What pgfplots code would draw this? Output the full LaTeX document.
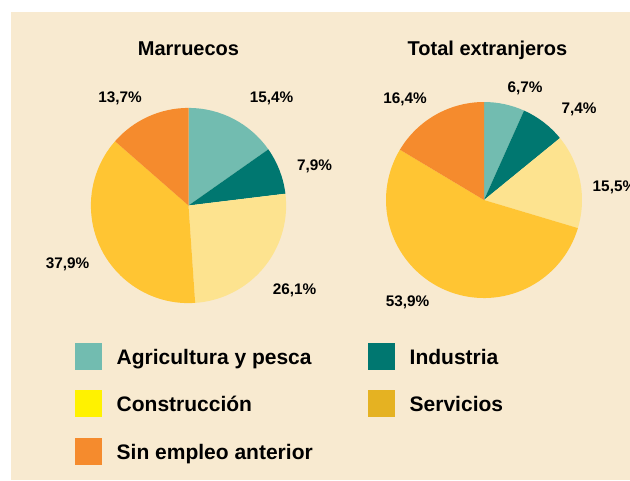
\documentclass[border=0pt]{standalone}
\usepackage{pgfplots}
\pgfplotsset{compat=1.18}
\usepackage{fontspec}
\setmainfont{Liberation Sans}

\definecolor{fondo}{HTML}{F8EAD0}
\definecolor{agri}{HTML}{72BCB0}
\definecolor{ind}{HTML}{007770}
\definecolor{cons}{HTML}{FDE38F}
\definecolor{serv}{HTML}{FFC533}
\definecolor{sinemp}{HTML}{F58B2D}
\definecolor{consleg}{HTML}{FFF200}
\definecolor{servleg}{HTML}{E5B222}
\definecolor{texto}{HTML}{231F20}

% shares (%) by sector, clockwise from 12 o'clock
\def\marruecos{15.4/agri, 7.9/ind, 26.1/cons, 37.9/serv, 13.7/sinemp}
\def\extranjeros{6.7/agri, 7.4/ind, 15.5/cons, 53.9/serv, 16.4/sinemp}

% #1,#2 centre (axis units), #3 radius, #4 list value/colour
\newcommand\pie[4]{%
  \gdef\tot{0}%
  \foreach \v/\c in #4 {\pgfmathparse{\tot+\v}\xdef\tot{\pgfmathresult}}%
  \gdef\acc{90}%
  \foreach \v/\c in #4 {%
    \pgfmathsetmacro\fin{\acc-\v/\tot*360}%
    \edef\temp{\noexpand\fill[\c] (axis cs:#1,#2) -- ++(\acc:#3)
      arc[start angle=\acc, end angle=\fin, radius=#3] -- cycle;}%
    \temp
    \xdef\acc{\fin}%
  }%
}

\newcommand\ttl{\fontsize{15pt}{18pt}\selectfont\bfseries}
\newcommand\lbl{\fontsize{11.5pt}{14pt}\selectfont\bfseries}
\newcommand\leg{\fontsize{15.75pt}{19pt}\selectfont\bfseries}

\begin{document}
\begin{tikzpicture}
\begin{axis}[
    width=472.5pt, height=360pt, scale only axis,
    xmin=0, xmax=630, ymin=0, ymax=480,
    y dir=reverse,
    hide axis, clip=false,
    every node/.append style={inner sep=0pt, text=texto},
]
\fill[fondo] (axis cs:11,12) rectangle (axis cs:630,480);

\pie{188.5}{205.5}{73.2pt}{\marruecos}
\pie{484}{200}{73.5pt}{\extranjeros}

\node[anchor=base, font=\ttl] at (axis cs:188.5,55) {Marruecos};
\node[anchor=base, font=\ttl] at (axis cs:487.5,55) {Total extranjeros};

\node[anchor=base, font=\lbl] at (axis cs:271.5,102.7) {15,4\%};
\node[anchor=base, font=\lbl] at (axis cs:314.5,170) {7,9\%};
\node[anchor=base, font=\lbl] at (axis cs:294.5,294) {26,1\%};
\node[anchor=base, font=\lbl] at (axis cs:67.5,268) {37,9\%};
\node[anchor=base, font=\lbl] at (axis cs:120,102.7) {13,7\%};

\node[anchor=base, font=\lbl] at (axis cs:525,92.7) {6,7\%};
\node[anchor=base, font=\lbl] at (axis cs:579,113.3) {7,4\%};
\node[anchor=base west, font=\lbl] at (axis cs:588,191.7) {15,5\%};
\node[anchor=base, font=\lbl] at (axis cs:407.5,306) {53,9\%};
\node[anchor=base, font=\lbl] at (axis cs:405,103.3) {16,4\%};

% legend
\fill[agri] (axis cs:75,343.3) rectangle (axis cs:102,370);
\fill[ind] (axis cs:368,343.3) rectangle (axis cs:395,370);
\fill[consleg] (axis cs:75,390) rectangle (axis cs:102,416.7);
\fill[servleg] (axis cs:368,390) rectangle (axis cs:395,416.7);
\fill[sinemp] (axis cs:75,438.3) rectangle (axis cs:102,465);
\node[anchor=base west, font=\leg] at (axis cs:112,364.3) {Agricultura y pesca};
\node[anchor=base west, font=\leg] at (axis cs:405,364.3) {Industria};
\node[anchor=base west, font=\leg] at (axis cs:112,411) {Construcción};
\node[anchor=base west, font=\leg] at (axis cs:405,411) {Servicios};
\node[anchor=base west, font=\leg] at (axis cs:112,459.3) {Sin empleo anterior};
\end{axis}
\pgfresetboundingbox
\useasboundingbox (0,0) rectangle (472.5pt,360pt);
\end{tikzpicture}
\end{document}
